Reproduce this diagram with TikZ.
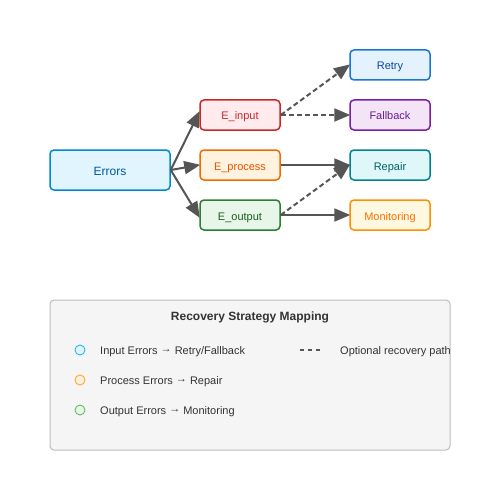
\documentclass[tikz,border=0pt]{standalone}
\usepackage{fontspec}
\setmainfont{Liberation Sans}
\usetikzlibrary{arrows.meta}
\definecolor{arr}{HTML}{555555}
\definecolor{errB}{HTML}{0288D1}\definecolor{errF}{HTML}{E1F5FE}\definecolor{errT}{HTML}{01579B}
\definecolor{inB}{HTML}{C62828}\definecolor{inF}{HTML}{FFEBEE}\definecolor{inT}{HTML}{C62828}
\definecolor{prB}{HTML}{EF6C00}\definecolor{prF}{HTML}{FFF3E0}\definecolor{prT}{HTML}{E65100}
\definecolor{ouB}{HTML}{2E7D32}\definecolor{ouF}{HTML}{E8F5E9}\definecolor{ouT}{HTML}{1B5E20}
\definecolor{reB}{HTML}{1976D2}\definecolor{reF}{HTML}{E3F2FD}\definecolor{reT}{HTML}{0D47A1}
\definecolor{faB}{HTML}{7B1FA2}\definecolor{faF}{HTML}{F3E5F5}\definecolor{faT}{HTML}{6A1B9A}
\definecolor{rpB}{HTML}{00838F}\definecolor{rpF}{HTML}{E0F7FA}\definecolor{rpT}{HTML}{006064}
\definecolor{moB}{HTML}{FF8F00}\definecolor{moF}{HTML}{FFF8E1}\definecolor{moT}{HTML}{FF6F00}
\definecolor{legF}{HTML}{F5F5F5}\definecolor{legB}{HTML}{BDBDBD}
\definecolor{legT}{HTML}{333333}
\definecolor{c1B}{HTML}{29B6F6}\definecolor{c2B}{HTML}{FFA726}\definecolor{c3B}{HTML}{66BB6A}
\newcommand{\rarr}{\raisebox{1.5pt}{→}}
\tikzset{
  box/.style={draw, line width=1.5pt, rounded corners=4pt, minimum width=80pt, minimum height=30pt, inner sep=0pt, text height=10pt, text depth=0pt, font=\fontsize{11}{13}\selectfont},
  arrow/.style={draw=arr, line width=2pt, -{Triangle[length=16pt,width=13pt]}, shorten >=-1pt},
  dasharrow/.style={arrow, dash pattern=on 5pt off 3pt},
  legtext/.style={anchor=base west, inner sep=0pt, text=legT, font=\fontsize{11}{13}\selectfont},
  legcirc/.style={circle, line width=0.9pt, minimum size=10pt, inner sep=0pt}
}
\begin{document}
\begin{tikzpicture}[x=1pt,y=-1pt]
\useasboundingbox (0,0) rectangle (500,500);
\fill[white] (0,0) rectangle (500,500);
% nodes
\node[box, draw=errB, fill=errF, text=errT, minimum width=120pt, minimum height=40pt, text height=11pt, font=\fontsize{12}{14}\selectfont] (err) at (110,170) {Errors};
\node[box, draw=inB, fill=inF, text=inT] (ein) at (240,115) {E\_input};
\node[box, draw=prB, fill=prF, text=prT] (epr) at (240,165) {E\_process};
\node[box, draw=ouB, fill=ouF, text=ouT] (eou) at (240,215) {E\_output};
\node[box, draw=reB, fill=reF, text=reT] (ret) at (390,65) {Retry};
\node[box, draw=faB, fill=faF, text=faT] (fal) at (390,115) {Fallback};
\node[box, draw=rpB, fill=rpF, text=rpT] (rep) at (390,165) {Repair};
\node[box, draw=moB, fill=moF, text=moT] (mon) at (390,215) {Monitoring};
% connectors
\draw[arrow] (err.east) -- ([yshift=3pt]ein.west);
\draw[arrow] (err.east) -- (epr.west);
\draw[arrow] (err.east) -- ([yshift=-2pt]eou.west);
\draw[dasharrow] (ein.east) -- (ret.west);
\draw[dasharrow] (ein.east) -- (fal.west);
\draw[arrow] (epr.east) -- (rep.west);
\draw[dasharrow] (eou.east) -- (rep.west);
\draw[arrow] (eou.east) -- (mon.west);
% legend
\node[draw=legB, fill=legF, line width=1pt, rounded corners=4pt, minimum width=400pt, minimum height=150pt, inner sep=0pt] (leg) at (250,375) {};
\node[text=legT, font=\bfseries\fontsize{12}{14}\selectfont, inner sep=0pt, anchor=base] (legtitle) at (250,320) {Recovery Strategy Mapping};
\node[legcirc, draw=c1B, fill=errF] (c1) at (80,350) {};
\node[legcirc, draw=c2B, fill=prF] (c2) at (80,380) {};
\node[legcirc, draw=c3B, fill=ouF] (c3) at (80,410) {};
\node[legtext] (t1) at (100,354) {Input Errors \rarr{} Retry/Fallback};
\node[legtext] (t2) at (100,384) {Process Errors \rarr{} Repair};
\node[legtext] (t3) at (100,414) {Output Errors \rarr{} Monitoring};
\coordinate (d1) at (300,350);
\coordinate (d2) at (320,350);
\draw[draw=arr, line width=2pt, dash pattern=on 4pt off 4pt] (d1) -- (d2);
\node[legtext] (t4) at (340,354) {Optional recovery path};
\end{tikzpicture}
\end{document}
